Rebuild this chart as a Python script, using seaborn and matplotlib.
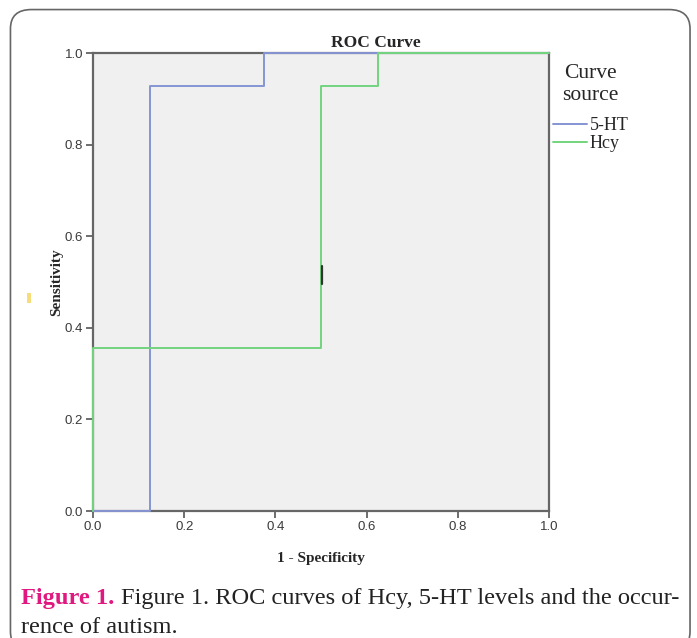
import numpy as np
import pandas as pd
import seaborn as sns
import matplotlib.pyplot as plt
from matplotlib.patches import FancyBboxPatch, Rectangle
from matplotlib.lines import Line2D

# ROC step points
ht_fpr = [0.0, 0.125, 0.125, 0.375, 0.375, 1.0]
ht_tpr = [0.0, 0.0, 0.929, 0.929, 1.0, 1.0]
hcy_fpr = [0.0, 0.0, 0.5, 0.5, 0.625, 0.625, 1.0]
hcy_tpr = [0.0, 0.357, 0.357, 0.929, 0.929, 1.0, 1.0]
ticks = [0.0, 0.2, 0.4, 0.6, 0.8, 1.0]
tick_labels = ["0.0", "0.2", "0.4", "0.6", "0.8", "1.0"]

df = pd.concat([
    pd.DataFrame({"fpr": ht_fpr, "tpr": ht_tpr, "src": "5-HT"}),
    pd.DataFrame({"fpr": hcy_fpr, "tpr": hcy_tpr, "src": "Hcy"}),
], ignore_index=True)

sns.set_style("white")
plt.rcParams['font.family'] = ['Liberation Serif', 'DejaVu Serif']

fig = plt.figure(figsize=(6.97, 6.38), dpi=100)

# rounded frame round the whole figure
frame = FancyBboxPatch((0.015, -0.02), 0.975, 1.005, boxstyle="round,pad=0,rounding_size=0.03",
                       transform=fig.transFigure, fill=False, edgecolor="#666666", lw=1.2,
                       clip_on=False)
fig.patches.append(frame)

ax = fig.add_axes([0.1334, 0.199, 0.6543, 0.7179])
ax.set_facecolor("#f0f0f0")

colors = {"5-HT": "#8595d3", "Hcy": "#72d47e"}
sns.lineplot(data=df, x="fpr", y="tpr", hue="src", estimator=None, sort=False,
             palette=colors, lw=1.4, ax=ax, legend=False, clip_on=False, zorder=3)

# small dark stroke on the Hcy riser (as in the source image)
ax.plot([0.502, 0.502], [0.496, 0.535], color="#333333", lw=1.6, zorder=4)

ax.set_xlim(0, 1)
ax.set_ylim(0, 1)
ax.set_xticks(ticks)
ax.set_yticks(ticks)
tick_font = ['Liberation Sans Narrow', 'Liberation Sans', 'DejaVu Sans']
ax.set_xticklabels(tick_labels, family=tick_font, fontsize=9.5, color="#3a3a3a")
ax.set_yticklabels(tick_labels, family=tick_font, fontsize=9.5, color="#3a3a3a")
ax.tick_params(axis="both", length=5, width=1.2, color="#555555", pad=2,
               bottom=True, left=True, top=False, right=False)
for s in ax.spines.values():
    s.set_visible(True)
    s.set_color("#666666")
    s.set_linewidth(1.6)

ax.set_xlabel("1 - Specificity", fontsize=11, fontweight="bold", labelpad=14)
ax.set_ylabel("Sensitivity", fontsize=11, fontweight="bold", labelpad=1)
ax.set_title("ROC Curve", fontsize=12.5, fontweight="bold", x=0.62, pad=4)

# yellow speck left of the y label in the source image
fig.add_artist(Rectangle((0.039, 0.525), 0.005, 0.016, transform=fig.transFigure,
                         facecolor="#f7dc7a", edgecolor="none"))

handles = [Line2D([], [], color=colors["5-HT"], lw=1.4),
           Line2D([], [], color=colors["Hcy"], lw=1.4)]
leg = fig.legend(handles, ["5-HT", "Hcy"], title="Curve\nsource", loc="upper left",
                 bbox_to_anchor=(0.793, 0.9), frameon=False, fontsize=13,
                 title_fontsize=15.5, handlelength=1.9, handletextpad=0.15,
                 labelspacing=0.05, borderpad=0, borderaxespad=0)
leg.get_title().set_multialignment("center")
leg._legend_box.sep = 9

fig.text(0.03, 0.053, "Figure 1.", fontsize=17.6, fontweight="bold", color="#e0187f")
fig.text(0.174, 0.053, "Figure 1. ROC curves of Hcy, 5-HT levels and the occur-",
         fontsize=17.6, color="#222222")
fig.text(0.03, 0.008, "rence of autism.", fontsize=17.6, color="#222222")

fig.savefig("out.png", dpi=100)
